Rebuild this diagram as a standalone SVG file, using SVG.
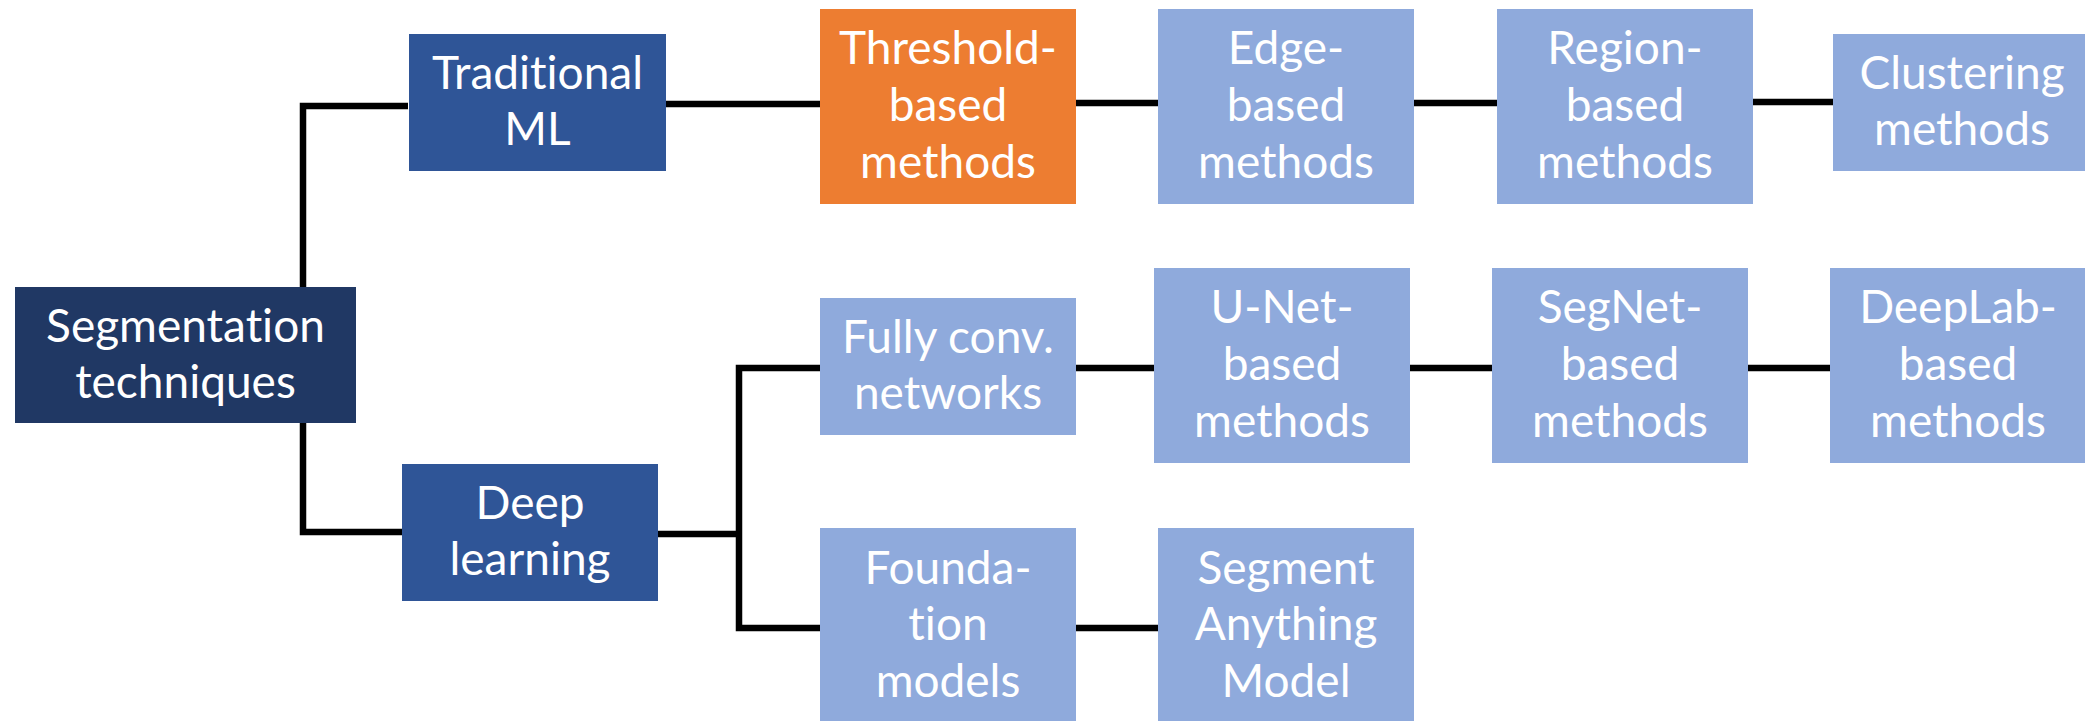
<svg xmlns="http://www.w3.org/2000/svg" width="2085" height="721" viewBox="0 0 2085 721">
<style>
.t{font-family:Lato,"Open Sans","Liberation Sans",sans-serif;font-size:46px;fill:#fff;text-anchor:middle;font-variant-ligatures:none;font-feature-settings:"liga" 0,"dlig" 0}
.c{fill:none;stroke:#000;stroke-width:6.5}
.root{fill:#203864}
.mid{fill:#2F5597}
.lt{fill:#8FAADC}
.or{fill:#ED7D31}
</style>
<rect width="2085" height="721" fill="#fff"/>
<g id="connectors">
<path class="c" d="M408 106 H303 V532 H402"/>
<path class="c" d="M665 104 H820"/>
<path class="c" d="M1076 103 H1158"/>
<path class="c" d="M1413 103 H1497"/>
<path class="c" d="M1752 102 H1833"/>
<path class="c" d="M658 534 H739"/>
<path class="c" d="M820 368 H739 V628 H820"/>
<path class="c" d="M1076 368 H1154"/>
<path class="c" d="M1409 368 H1492"/>
<path class="c" d="M1747 368 H1830"/>
<path class="c" d="M1076 628 H1158"/>
</g>
<g id="seg"><rect class="root" x="15" y="287" width="341" height="136"/><text class="t"><tspan x="185.5" y="342">Segmentation</tspan><tspan x="185.5" y="398">techniques</tspan></text></g>
<g id="trad"><rect class="mid" x="409" y="34" width="257" height="137"/><text class="t"><tspan x="537.5" y="89">Traditional</tspan><tspan x="537.5" y="145">ML</tspan></text></g>
<g id="deep"><rect class="mid" x="402" y="464" width="256" height="137"/><text class="t"><tspan x="530" y="519">Deep</tspan><tspan x="530" y="575">learning</tspan></text></g>
<g id="threshold"><rect class="or" x="820" y="9" width="256" height="195"/><text class="t"><tspan x="948" y="64">Threshold-</tspan><tspan x="948" y="121">based</tspan><tspan x="948" y="178">methods</tspan></text></g>
<g id="edge"><rect class="lt" x="1158" y="9" width="256" height="195"/><text class="t"><tspan x="1286" y="64">Edge-</tspan><tspan x="1286" y="121">based</tspan><tspan x="1286" y="178">methods</tspan></text></g>
<g id="region"><rect class="lt" x="1497" y="9" width="256" height="195"/><text class="t"><tspan x="1625" y="64">Region-</tspan><tspan x="1625" y="121">based</tspan><tspan x="1625" y="178">methods</tspan></text></g>
<g id="clustering"><rect class="lt" x="1833" y="34" width="252" height="137"/><text class="t"><tspan x="1962" y="89">Clustering</tspan><tspan x="1962" y="145">methods</tspan></text></g>
<g id="fcn"><rect class="lt" x="820" y="298" width="256" height="137"/><text class="t"><tspan x="948" y="353">Fully conv.</tspan><tspan x="948" y="409">networks</tspan></text></g>
<g id="unet"><rect class="lt" x="1154" y="268" width="256" height="195"/><text class="t"><tspan x="1282" y="323">U-Net-</tspan><tspan x="1282" y="380">based</tspan><tspan x="1282" y="437">methods</tspan></text></g>
<g id="segnet"><rect class="lt" x="1492" y="268" width="256" height="195"/><text class="t"><tspan x="1620" y="323">SegNet-</tspan><tspan x="1620" y="380">based</tspan><tspan x="1620" y="437">methods</tspan></text></g>
<g id="deeplab"><rect class="lt" x="1830" y="268" width="255" height="195"/><text class="t"><tspan x="1958" y="323">DeepLab-</tspan><tspan x="1958" y="380">based</tspan><tspan x="1958" y="437">methods</tspan></text></g>
<g id="foundation"><rect class="lt" x="820" y="528" width="256" height="193"/><text class="t"><tspan x="948" y="584">Founda-</tspan><tspan x="948" y="640">tion</tspan><tspan x="948" y="697">models</tspan></text></g>
<g id="sam"><rect class="lt" x="1158" y="528" width="256" height="193"/><text class="t"><tspan x="1286" y="584">Segment</tspan><tspan x="1286" y="640">Anything</tspan><tspan x="1286" y="697">Model</tspan></text></g>
</svg>
